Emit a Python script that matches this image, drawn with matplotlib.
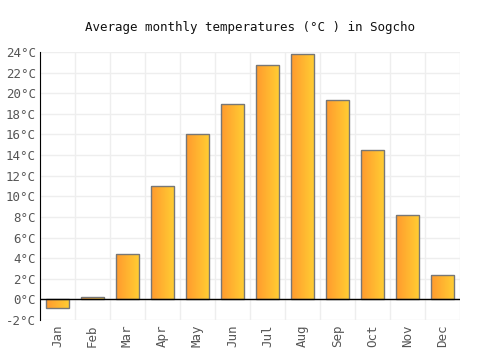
import matplotlib
matplotlib.use("Agg")
import matplotlib.pyplot as plt
import numpy as np
from matplotlib.colors import LinearSegmentedColormap

months = ["Jan", "Feb", "Mar", "Apr", "May", "Jun", "Jul", "Aug", "Sep", "Oct", "Nov", "Dec"]
temps = [-0.85, 0.2, 4.4, 11.0, 16.0, 19.0, 22.7, 23.8, 19.3, 14.5, 8.2, 2.4]
yticks = list(range(-2, 25, 2))

plt.rcParams['font.family'] = ['DejaVu Sans Mono']
fig = plt.figure(figsize=(5, 3.5), dpi=100)
ax = fig.add_axes([0.08, 0.0857, 0.84, 0.7657])

x = np.arange(len(months))

cmap = LinearSegmentedColormap.from_list("g", ["#ff9a2e", "#ffcf33"])
grad = np.linspace(0, 1, 64).reshape(1, -1)
bars = ax.bar(x, temps, width=0.68, facecolor="none", edgecolor="#777777", linewidth=1, zorder=3)
for b in bars:
    x0, y0 = b.get_x(), b.get_y()
    w, h = b.get_width(), b.get_height()
    im = ax.imshow(grad, cmap=cmap, aspect="auto", extent=[x0, x0 + w, min(y0, y0 + h), max(y0, y0 + h)],
                   zorder=2, interpolation="bilinear")
    im.set_clip_path(b)
ax.set_xlim(-0.5, len(months) - 0.5)
ax.set_ylim(-2, 24)

ax.set_yticks(yticks)
ax.set_yticklabels([f"{t}°C" for t in yticks])
ax.set_xticks(x)
ax.set_xticklabels(months, rotation=90)
ax.set_xticks(np.arange(-0.5, len(months), 1), minor=True)
ax.grid(True, axis="y", color="#eeeeee", linewidth=1, zorder=0)
ax.grid(True, axis="x", which="minor", color="#eeeeee", linewidth=1, zorder=0)
ax.tick_params(axis="both", which="both", length=0, labelsize=9, colors="#555555")
ax.tick_params(axis="y", pad=3)
for s in ["top", "right", "bottom"]:
    ax.spines[s].set_visible(False)
ax.spines["left"].set_color("black")
ax.axhline(0, color="black", linewidth=1, zorder=4)
ax.set_title("Average monthly temperatures (°C ) in Sogcho", fontsize=9, pad=15, color="#111111")

fig.savefig("out.png", dpi=100)
